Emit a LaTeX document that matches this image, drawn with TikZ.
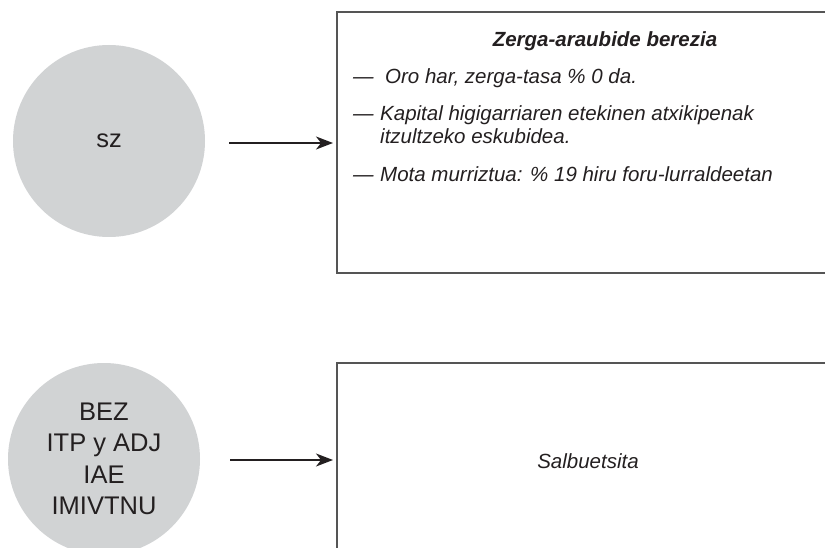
\documentclass[tikz,border=0pt]{standalone}
\usepackage{fontspec}
\setmainfont{Liberation Sans}
\usetikzlibrary{arrows.meta}
\definecolor{circgray}{HTML}{D1D3D4}
\definecolor{ink}{HTML}{231F20}
\definecolor{edge}{HTML}{555555}
\begin{document}
\begin{tikzpicture}[x=1pt,y=-1pt,
  taxcirc/.style={circle,fill=circgray,minimum size=192pt,inner sep=0pt,text=ink,font=\fontsize{25.5}{31.5}\selectfont,align=center},
  conn/.style={draw=ink,line width=1.4pt,-{Stealth[length=17pt,width=13pt,inset=5pt]}},
  boxline/.style={draw=edge,line width=1.5pt},
  bodytext/.style={anchor=base west,inner sep=0pt,text=ink,font=\fontsize{20.5}{22}\selectfont\itshape}
]
\useasboundingbox (0,0) rectangle (825,548);
% top row
\node[taxcirc] (c1) at (109,141) {sz};
\coordinate (b1tl) at (337,12);
\coordinate (b1bl) at (337,273);
\draw[boxline] (830,12) -- (b1tl) -- (b1bl) -- (830,273);
\coordinate (a1s) at (229,143);
\coordinate (a1e) at (333,143);
\draw[conn] (a1s) -- (a1e);
\node[anchor=base,inner sep=0pt,text=ink,font=\fontsize{20.5}{22}\selectfont\bfseries\itshape] (title) at (605,47) {Zerga-araubide berezia};
\node[bodytext] (d1) at (353,84) {—};
\node[bodytext] (l1) at (385,84) {Oro har, zerga-tasa \% 0 da.};
\node[bodytext] (d2) at (353,121) {—};
\node[bodytext] (l2) at (380,121) {Kapital higigarriaren etekinen atxikipenak};
\node[bodytext] (l2b) at (380,144) {itzultzeko eskubidea.};
\node[bodytext] (d3) at (353,182) {—};
\node[bodytext] (l3) at (380,182) {Mota murriztua: \% 19 hiru foru-lurraldeetan};
% bottom row
\node[taxcirc] (c2) at (104,459) {BEZ\\ITP y ADJ\\IAE\\IMIVTNU};
\coordinate (b2tl) at (337,363);
\draw[boxline] (830,363) -- (b2tl) -- (337,552);
\coordinate (a2s) at (230,460);
\coordinate (a2e) at (333,460);
\draw[conn] (a2s) -- (a2e);
\node[inner sep=0pt,text=ink,font=\fontsize{20.5}{22}\selectfont\itshape] (salb) at (588,461) {Salbuetsita};
\end{tikzpicture}
\end{document}
